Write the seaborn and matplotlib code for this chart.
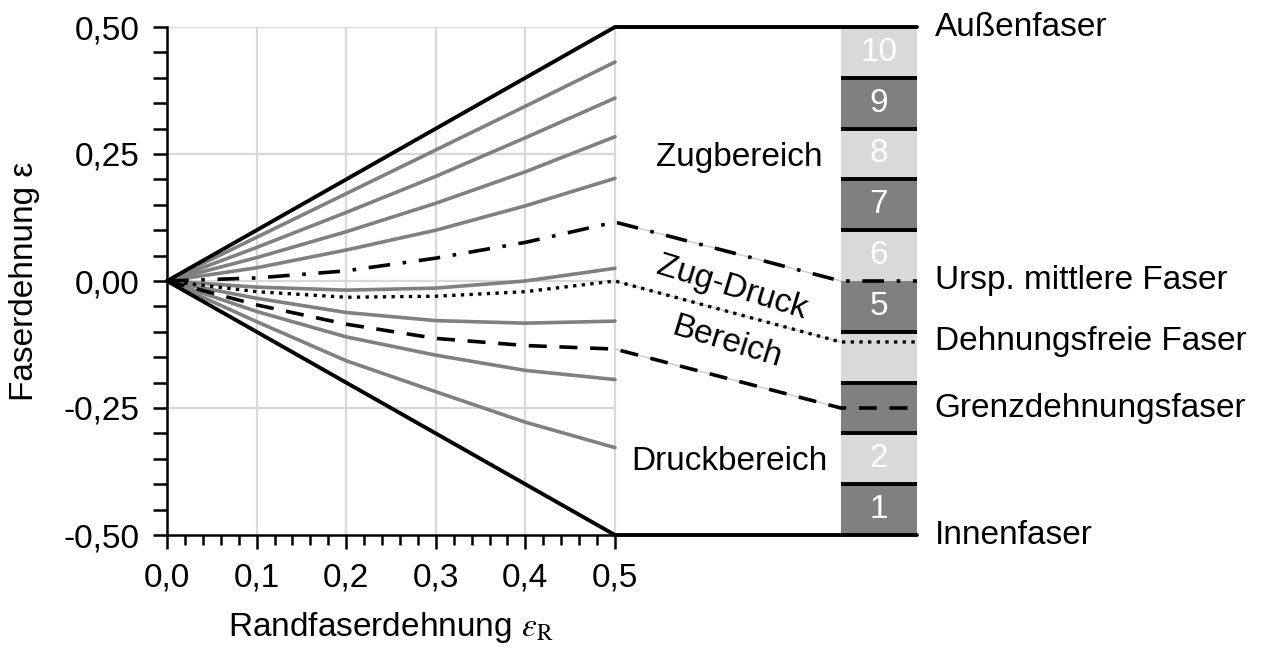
import numpy as np
import pandas as pd
import matplotlib
matplotlib.use("Agg")
import matplotlib.pyplot as plt
import seaborn as sns
from matplotlib.ticker import FixedLocator

# ---------------- data ----------------
x_edge = [0.0, 0.1, 0.2, 0.3, 0.4, 0.5]          # Randfaserdehnung
fiber_p04 = [0.0, 0.086, 0.172, 0.258, 0.344, 0.431]
fiber_p03 = [0.0, 0.066, 0.135, 0.206, 0.282, 0.360]
fiber_p02 = [0.0, 0.046, 0.097, 0.153, 0.215, 0.284]
fiber_p01 = [0.0, 0.026, 0.061, 0.100, 0.148, 0.202]
fiber_m01 = [0.0, -0.012, -0.018, -0.014, 0.000, 0.025]
fiber_m02 = [0.0, -0.034, -0.062, -0.078, -0.083, -0.079]
fiber_m03 = [0.0, -0.060, -0.110, -0.146, -0.176, -0.194]
fiber_m04 = [0.0, -0.080, -0.157, -0.218, -0.278, -0.328]
outer_fiber = [0.0, 0.1, 0.2, 0.3, 0.4, 0.5]
inner_fiber = [0.0, -0.1, -0.2, -0.3, -0.4, -0.5]
mid_fiber = [0.0, 0.006, 0.020, 0.045, 0.076, 0.116]
neutral_fiber = [0.0, -0.021, -0.032, -0.030, -0.021, 0.000]
limit_fiber = [0.0, -0.047, -0.085, -0.113, -0.127, -0.134]

# layer diagram (right part)
x_layer_left = 0.752
x_layer_right = 0.837
layer_numbers = [1, 2, 3, 4, 5, 6, 7, 8, 9, 10]
layer_bottoms = [-0.5, -0.4, -0.3, -0.2, -0.1, 0.0, 0.1, 0.2, 0.3, 0.4]
layer_labels = ["1", "2", "", "", "5", "6", "7", "8", "9", "10"]
layer_separators = [0.4, 0.3, 0.2, 0.1, -0.1, -0.2, -0.3, -0.4]
mid_level = 0.0
neutral_level = -0.12
limit_level = -0.25
outer_level = 0.5
inner_level = -0.5

fiber_names = ["Außenfaser", "Ursp. mittlere Faser", "Dehnungsfreie Faser",
               "Grenzdehnungsfaser", "Innenfaser"]
fiber_levels = [outer_level, mid_level, neutral_level, limit_level, inner_level]

x_ticks = [0.0, 0.1, 0.2, 0.3, 0.4, 0.5]
x_ticklabels = ["0,0", "0,1", "0,2", "0,3", "0,4", "0,5"]
y_ticks = [-0.5, -0.25, 0.0, 0.25, 0.5]
y_ticklabels = ["-0,50", "-0,25", "0,00", "0,25", "0,50"]

# ---------------- style ----------------
sns.set_theme(style="white")
plt.rcParams["font.family"] = ["Liberation Sans", "DejaVu Sans"]
plt.rcParams["mathtext.fontset"] = "stix"
plt.rcParams["text.color"] = "black"
FS = 24

fig = plt.figure(figsize=(12.61, 6.55), dpi=100)
ax = fig.add_axes([167 / 1261, 120 / 655, 752.6 / 1261, 508 / 655])
ax.set_xlim(0, 0.84)
ax.set_ylim(-0.5, 0.5)

GRID = "#d9d9d9"
for xv in [0.1, 0.2, 0.3, 0.4, 0.5]:
    ax.axvline(xv, color=GRID, lw=1.6, zorder=0)
ax.hlines([0.5, 0.25, 0.0, -0.25], 0, 0.5, color=GRID, lw=1.6, zorder=0)

# layer blocks
layer_colors = ["#808080" if n % 2 == 1 else "#d9d9d9" for n in layer_numbers]
ax.bar([(x_layer_left + x_layer_right) / 2] * len(layer_numbers), [0.1] * len(layer_numbers),
       bottom=layer_bottoms, width=x_layer_right - x_layer_left, color=layer_colors,
       align="center", linewidth=0, zorder=1)
for b, lab in zip(layer_bottoms, layer_labels):
    if lab:
        ax.text((x_layer_left + x_layer_right) / 2, b + 0.05, lab, color="white",
                fontsize=FS, ha="center", va="center", zorder=2)
ax.hlines(layer_separators, x_layer_left, x_layer_right, color="black", lw=2.8, zorder=3)

# gray fibre curves
GRAY = "#808080"
for ys in [fiber_p04, fiber_p03, fiber_p02, fiber_p01,
           fiber_m01, fiber_m02, fiber_m03, fiber_m04]:
    sns.lineplot(x=x_edge, y=ys, ax=ax, color=GRAY, lw=2.6, zorder=4, sort=False)

# outer / inner fibres
xo = x_edge + [x_layer_right]
sns.lineplot(x=xo, y=outer_fiber + [outer_level], ax=ax, color="black", lw=2.8,
             zorder=6, sort=False, clip_on=False)
sns.lineplot(x=xo, y=inner_fiber + [inner_level], ax=ax, color="black", lw=2.8,
             zorder=6, sort=False, clip_on=False)

# special fibres continuing into the layer diagram
xs = x_edge + [x_layer_left, x_layer_right]
for ys, lvl in [(mid_fiber, mid_level), (neutral_fiber, neutral_level), (limit_fiber, limit_level)]:
    ax.plot([x_edge[-1], x_layer_left], [ys[-1], lvl], color="#cccccc", lw=1.0, zorder=4)
sns.lineplot(x=xs, y=mid_fiber + [mid_level, mid_level], ax=ax, color="black", lw=2.6,
             zorder=5, sort=False, linestyle=(0, (6, 3.5, 1, 3.5)))
sns.lineplot(x=xs, y=neutral_fiber + [neutral_level, neutral_level], ax=ax, color="black",
             lw=2.4, zorder=5, sort=False, linestyle=(0, (1, 1.6)))
sns.lineplot(x=xs, y=limit_fiber + [limit_level, limit_level], ax=ax, color="black",
             lw=2.6, zorder=5, sort=False, linestyle=(0, (5, 3.5)))

# region labels
ax.text(0.639, 0.244, "Zugbereich", fontsize=FS, ha="center", va="center", color="black")
ax.text(0.63, -0.013, "Zug-Druck", fontsize=FS, ha="center", va="center", rotation=-17,
        color="black")
ax.text(0.625, -0.12, "Bereich", fontsize=FS, ha="center", va="center", rotation=-17,
        color="black")
ax.text(0.628, -0.356, "Druckbereich", fontsize=FS, ha="center", va="center", color="black")

# fibre names at right
for name, lvl in zip(fiber_names, fiber_levels):
    ax.text(0.857, lvl, name, fontsize=FS, ha="left", va="center", clip_on=False,
            color="black")

# axes styling
for s in ["top", "right"]:
    ax.spines[s].set_visible(False)
for s in ["left", "bottom"]:
    ax.spines[s].set_color("black")
    ax.spines[s].set_linewidth(1.8)
ax.spines["bottom"].set_bounds(0, 0.5)
ax.spines["left"].set_bounds(-0.5, 0.5)

ax.xaxis.set_major_locator(FixedLocator(x_ticks))
ax.set_xticklabels(x_ticklabels)
ax.xaxis.set_minor_locator(FixedLocator([i * 0.02 for i in range(26)]))
ax.yaxis.set_major_locator(FixedLocator(y_ticks))
ax.set_yticklabels(y_ticklabels)
ax.yaxis.set_minor_locator(FixedLocator([-0.5 + i * 0.05 for i in range(21)]))

ax.tick_params(axis="both", which="both", direction="out", color="black", width=1.8,
               labelsize=FS, labelcolor="black")
ax.tick_params(axis="x", which="major", length=10, pad=10, bottom=True)
ax.tick_params(axis="x", which="minor", length=7, bottom=True)
ax.tick_params(axis="y", which="major", length=10, pad=10, left=True)
ax.tick_params(axis="y", which="minor", length=10, left=True)

ax.set_xlabel(r"Randfaserdehnung $\varepsilon_{\mathrm{R}}$", fontsize=FS, color="black")
ax.xaxis.set_label_coords(0.25 / 0.84, -0.148)
ax.set_ylabel("Faserdehnung ε", fontsize=FS, color="black")
ax.yaxis.set_label_coords(-0.169, 0.5)

fig.savefig("out.png", dpi=100)
